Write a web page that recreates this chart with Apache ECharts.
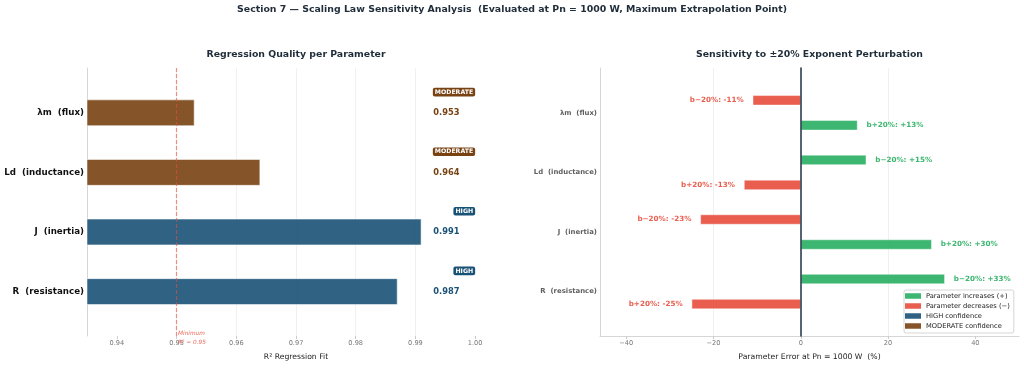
<!DOCTYPE html>
<html>
<head>
<meta charset="utf-8">
<script src="https://cdn.jsdelivr.net/npm/echarts@6/dist/echarts.min.js"></script>
<style>
  html, body { margin: 0; padding: 0; background: #ffffff; }
  #chart { width: 1024px; height: 368px; }
</style>
</head>
<body>
<div id="chart"></div>
<script>
// ---------------- data ----------------
const params = ['λm  (flux)', 'Ld  (inductance)', 'J  (inertia)', 'R  (resistance)'];
const r2Values = [0.953, 0.964, 0.991, 0.987];
const confidence = ['MODERATE', 'MODERATE', 'HIGH', 'HIGH'];
const r2Threshold = 0.95;
const errBMinus20 = [-11, 15, -23, 33];   // b−20%
const errBPlus20 = [13, -13, 30, -25];    // b+20%
const r2Ticks = [0.94, 0.95, 0.96, 0.97, 0.98, 0.99, 1.00];
const errTicks = [-40, -20, 0, 20, 40];
const legendNames = ['Parameter increases (+)', 'Parameter decreases (−)', 'HIGH confidence', 'MODERATE confidence'];

// ---------------- style ----------------
const FONT = 'DejaVu Sans';
const C_HIGH = '#1a5276', C_MOD = '#784212', C_POS = '#27ae60', C_NEG = '#e74c3c';
const confColor = c => (c === 'HIGH' ? C_HIGH : C_MOD);
const signColor = v => (v >= 0 ? C_POS : C_NEG);
const fmtMinus = v => String(v).replace('-', '\u2212');

const R2_MIN = 0.935, R2_MAX = 1.005;
const ERR_MIN = -46, ERR_MAX = 50;

const chart = echarts.init(document.getElementById('chart'), null, { renderer: 'canvas' });

const outerL = { left: 87, right: 519, top: 68, bottom: 32 };
const innerL = { left: 87, right: 519, top: 83, bottom: 46.6 };
const outerR = { left: 600, right: 5, top: 68, bottom: 32 };
const innerR = { left: 600, right: 5, top: 83, bottom: 46.6 };

const tickLabel = { color: '#777', fontSize: 6.6, fontFamily: FONT, margin: 4 };
const gridLine = { show: true, lineStyle: { color: '#ececec', width: 0.8 }, showMinLine: false, showMaxLine: false };

function sensSeries(name, values, prefix) {
  return {
    name: name, type: 'bar', xAxisIndex: 3, yAxisIndex: 3,
    barWidth: 10, barGap: '150%',
    data: values.map(v => ({
      value: v,
      itemStyle: { color: signColor(v), opacity: 0.9, borderColor: '#fff', borderWidth: 0.5 },
      label: {
        show: true, position: v >= 0 ? 'right' : 'left', distance: 9,
        color: signColor(v), fontWeight: 'bold', fontSize: 7.2, fontFamily: FONT,
        formatter: prefix + ': ' + (v > 0 ? '+' : '') + v + '%'
      }
    })),
    z: 3
  };
}

const option = {
  backgroundColor: '#ffffff',
  animation: false,
  textStyle: { fontFamily: FONT },
  title: [
    { text: 'Section 7 — Scaling Law Sensitivity Analysis  (Evaluated at Pn = 1000 W, Maximum Extrapolation Point)',
      left: 'center', top: 5, padding: 0,
      textStyle: { fontSize: 9.4, fontWeight: 'bold', color: '#1f2d3a', fontFamily: FONT } },
    { text: 'Regression Quality per Parameter', left: 296, textAlign: 'center', top: 50.5, padding: 0,
      textStyle: { fontSize: 9.35, fontWeight: 'bold', color: '#1f2d3a', fontFamily: FONT } },
    { text: 'Sensitivity to ±20% Exponent Perturbation', left: 809.5, textAlign: 'center', top: 50.5, padding: 0,
      textStyle: { fontSize: 9.35, fontWeight: 'bold', color: '#1f2d3a', fontFamily: FONT } }
  ],
  legend: {
    orient: 'vertical', left: 904, top: 290, padding: [2, 4, 3, 1],
    icon: 'rect', itemWidth: 16, itemHeight: 5.5, itemGap: 2,
    selectedMode: false,
    borderColor: '#cccccc', borderWidth: 0.8, borderRadius: 2,
    backgroundColor: 'rgba(255,255,255,0.85)',
    textStyle: { fontSize: 6.7, lineHeight: 8, color: '#222', fontFamily: FONT },
    data: legendNames
  },
  grid: [outerL, innerL, outerR, innerR],
  xAxis: [
    { gridIndex: 0, type: 'value', min: R2_MIN, max: R2_MAX, splitNumber: 7,
      name: 'R² Regression Fit', nameLocation: 'middle', nameGap: 17,
      nameTextStyle: { fontSize: 7.7, color: '#222', fontFamily: FONT },
      axisLine: { show: false },
      axisTick: { show: true, length: 3, lineStyle: { color: '#cccccc' }, customValues: r2Ticks },
      axisLabel: Object.assign({ customValues: r2Ticks, formatter: v => v.toFixed(2) }, tickLabel),
      splitLine: gridLine },
    { gridIndex: 1, type: 'value', min: R2_MIN, max: R2_MAX, show: false },
    { gridIndex: 2, type: 'value', min: ERR_MIN, max: ERR_MAX, splitNumber: 5,
      name: 'Parameter Error at Pn = 1000 W  (%)', nameLocation: 'middle', nameGap: 17,
      nameTextStyle: { fontSize: 7.7, color: '#222', fontFamily: FONT },
      axisLine: { show: true, onZero: false, lineStyle: { color: '#cccccc', width: 0.8 } },
      axisTick: { show: true, length: 3, lineStyle: { color: '#cccccc' }, customValues: errTicks },
      axisLabel: Object.assign({ customValues: errTicks, formatter: v => fmtMinus(v) }, tickLabel),
      splitLine: gridLine },
    { gridIndex: 3, type: 'value', min: ERR_MIN, max: ERR_MAX, show: false }
  ],
  yAxis: [
    { gridIndex: 0, type: 'value', min: 0, max: 1,
      axisLine: { show: true, onZero: false, lineStyle: { color: '#cccccc', width: 0.8 } },
      axisTick: { show: false }, axisLabel: { show: false }, splitLine: { show: false } },
    { gridIndex: 1, type: 'category', inverse: true, data: params,
      axisLine: { show: false }, axisTick: { show: false },
      axisLabel: { color: '#111', fontSize: 8.7, fontWeight: 'bold', fontFamily: FONT, margin: 3 } },
    { gridIndex: 2, type: 'value', min: 0, max: 1,
      axisLine: { show: true, onZero: false, lineStyle: { color: '#cccccc', width: 0.8 } },
      axisTick: { show: false }, axisLabel: { show: false }, splitLine: { show: false } },
    { gridIndex: 3, type: 'category', inverse: true, data: params,
      axisLine: { show: false, onZero: false }, axisTick: { show: false },
      axisLabel: { color: '#5f5f5f', fontSize: 6.9, fontWeight: 'bold', fontFamily: FONT, margin: 3 } },
    // zero reference line of the sensitivity panel (sits on x = 0)
    { gridIndex: 2, type: 'value', min: 0, max: 1, z: 6,
      axisLine: { show: true, onZero: true, lineStyle: { color: '#2c3e50', width: 1.6 } },
      axisTick: { show: false }, axisLabel: { show: false }, splitLine: { show: false } }
  ],
  series: [
    // R² bars
    { name: 'R²', type: 'bar', xAxisIndex: 1, yAxisIndex: 1, barWidth: 26.5,
      data: r2Values.map((v, i) => ({
        value: v,
        itemStyle: { color: confColor(confidence[i]), opacity: 0.9, borderColor: '#fff', borderWidth: 0.6 }
      })),
      z: 2 },
    // R² value text
    { name: 'r2text', type: 'scatter', xAxisIndex: 1, yAxisIndex: 1, symbolSize: 0, silent: true,
      itemStyle: { opacity: 1 },
      data: r2Values.map((v, i) => ({
        value: [0.993, i],
        label: { show: true, position: 'right', distance: 0, formatter: v.toFixed(3),
          color: confColor(confidence[i]), fontWeight: 'bold', fontSize: 8.3, fontFamily: FONT }
      })), z: 4 },
    // confidence badges
    { name: 'badges', type: 'scatter', xAxisIndex: 1, yAxisIndex: 1, symbolSize: 0, silent: true,
      itemStyle: { opacity: 1 },
      data: confidence.map((c, i) => ({
        value: [1.0, i],
        label: { show: true, position: 'left', distance: 0, offset: [0, -20.7], formatter: c,
          color: '#fff', fontWeight: 'bold', fontSize: 6.2, fontFamily: FONT,
          backgroundColor: confColor(c), padding: [1.6, 2, 1, 2], borderRadius: 2 }
      })), z: 4 },
    // threshold line + label
    { name: 'threshold', type: 'scatter', xAxisIndex: 0, yAxisIndex: 0, symbolSize: 0, silent: true,
      itemStyle: { opacity: 1 },
      data: [{ value: [r2Threshold, 0],
        label: { show: true, position: [1.5, -6.5], formatter: 'Minimum\nR² = 0.95',
          color: 'rgba(231,76,60,0.85)', fontStyle: 'italic', fontSize: 5.8, lineHeight: 8.5, fontFamily: FONT } }],
      markLine: { silent: true, symbol: 'none', label: { show: false },
        lineStyle: { color: C_NEG, type: [4, 2], width: 1.2, opacity: 0.6 },
        data: [{ xAxis: r2Threshold }] },
      z: 5 },
    // sensitivity bars
    sensSeries('b−20%', errBMinus20, 'b\u221220%'),
    sensSeries('b+20%', errBPlus20, 'b+20%'),
    // legend entries
    { name: legendNames[0], type: 'scatter', xAxisIndex: 2, yAxisIndex: 2, data: [], itemStyle: { color: C_POS, opacity: 0.9 } },
    { name: legendNames[1], type: 'scatter', xAxisIndex: 2, yAxisIndex: 2, data: [], itemStyle: { color: C_NEG, opacity: 0.9 } },
    { name: legendNames[2], type: 'scatter', xAxisIndex: 2, yAxisIndex: 2, data: [], itemStyle: { color: C_HIGH, opacity: 0.9 } },
    { name: legendNames[3], type: 'scatter', xAxisIndex: 2, yAxisIndex: 2, data: [], itemStyle: { color: C_MOD, opacity: 0.9 } }
  ]
};

chart.setOption(option);
</script>
</body>
</html>
